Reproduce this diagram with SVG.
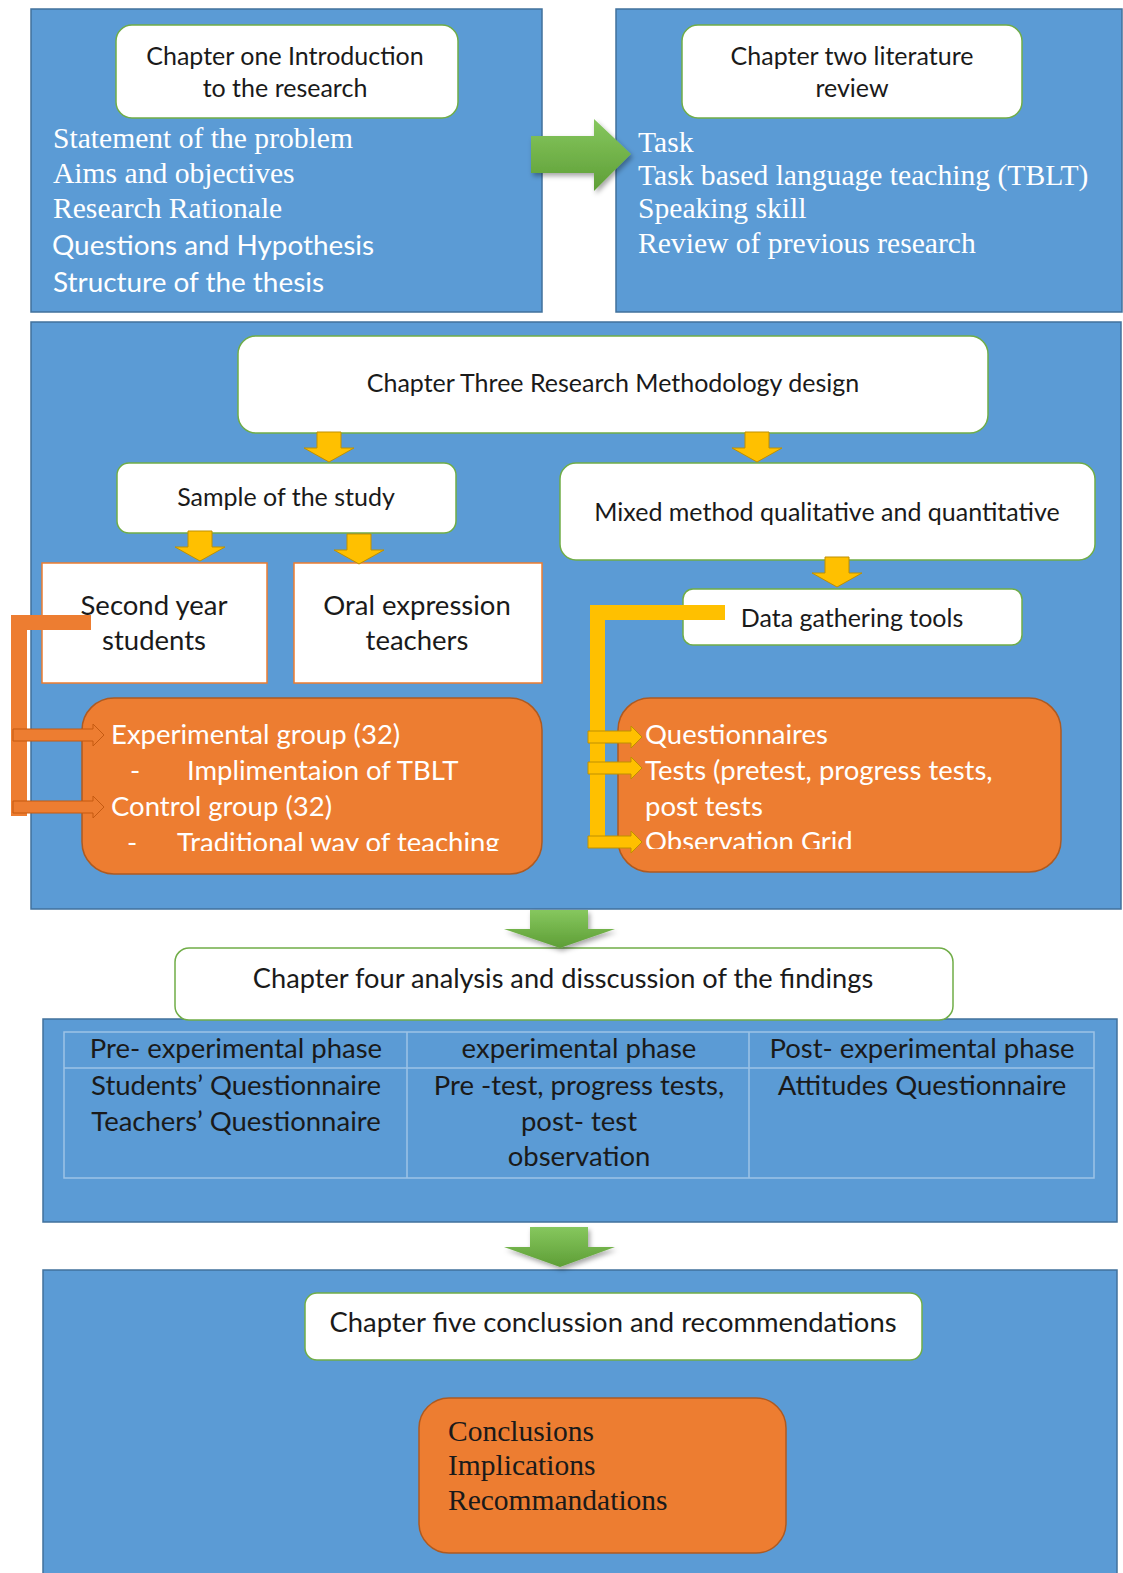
<svg xmlns="http://www.w3.org/2000/svg" width="1123" height="1573" viewBox="0 0 1123 1573">
<style>
.blue{fill:#5B9BD5;stroke:#41719C;stroke-width:1.5}
.wbox{fill:#FFFFFF;stroke:#70AD47;stroke-width:1.5}
.obox{fill:#FFFFFF;stroke:#ED7D31;stroke-width:1.5}
.orange{fill:#ED7D31;stroke:#AE5A21;stroke-width:1.5}
.cal{font-family:Lato,"Liberation Sans",sans-serif;fill:#1a1a1a}
.calw{font-family:Lato,"Liberation Sans",sans-serif;fill:#FFFFFF}
.tim{font-family:"Liberation Serif","Times New Roman",serif;font-size:29.6px;fill:#FFFFFF}
.timk{font-family:"Liberation Serif","Times New Roman",serif;font-size:29.5px;fill:#1a1a1a}
.t25{font-size:25px}
.t27{font-size:27.5px}
.t28{font-size:27.9px}
.t272{font-size:27.2px}
.mid{text-anchor:middle}
.yel{fill:#FFC000}
.yarr{fill:#FFC000;stroke:#BF9000;stroke-width:1}
.oarr{fill:#ED7D31;stroke:#C55A11;stroke-width:1}
.grn{fill:url(#gg);filter:url(#sh)}
.tbl{fill:none;stroke:#9DC3E6;stroke-width:1.5}
</style>
<defs>
<linearGradient id="gg" x1="0" y1="0" x2="0" y2="1">
<stop offset="0" stop-color="#86C75E"/>
<stop offset="1" stop-color="#5E9E36"/>
</linearGradient>
<filter id="sh" x="-20%" y="-20%" width="150%" height="150%">
<feDropShadow dx="2" dy="3" stdDeviation="2.5" flood-color="#000" flood-opacity="0.35"/>
</filter>
<path id="yDown" class="yarr" d="M-12,0 H12 V16 H25 L0,30 L-25,16 H-12 Z"/>
<clipPath id="clipL"><rect x="82" y="698" width="460" height="153"/></clipPath>
<clipPath id="clipR"><rect x="618" y="698" width="444" height="151"/></clipPath>
</defs>

<g id="chapter1">
<rect class="blue" x="31" y="9" width="511" height="303"/>
<rect class="wbox" x="116" y="25" width="342" height="93" rx="16"/>
<text class="cal t25 mid" x="285" y="65">Chapter one Introduction</text>
<text class="cal t25 mid" x="285" y="97">to the research</text>
<text class="tim" x="53" y="148">Statement of the problem</text>
<text class="tim" x="53" y="183">Aims and objectives</text>
<text class="tim" x="53" y="218">Research Rationale</text>
<text class="calw t28" x="52" y="255">Questions and Hypothesis</text>
<text class="calw t28" x="53" y="292">Structure of the thesis</text>
</g>

<g id="chapter2">
<rect class="blue" x="616" y="9" width="506" height="303"/>
<rect class="wbox" x="682" y="25" width="340" height="93" rx="16"/>
<text class="cal t25 mid" x="852" y="65">Chapter two literature</text>
<text class="cal t25 mid" x="852" y="97">review</text>
<text class="tim" x="638" y="152">Task</text>
<text class="tim" x="638" y="185">Task based language teaching (TBLT)</text>
<text class="tim" x="638" y="218">Speaking skill</text>
<text class="tim" x="638" y="253">Review of previous research</text>
</g>

<g id="chapter3">
<rect class="blue" x="31" y="322" width="1090" height="587"/>
<g id="ch3-title">
<rect class="wbox" x="238" y="336" width="750" height="97" rx="18"/>
<text class="cal t25 mid" x="613" y="392">Chapter Three Research Methodology design</text>
</g>
<g id="sample">
<rect class="wbox" x="117" y="463" width="339" height="70" rx="12"/>
<text class="cal t25 mid" x="286" y="506">Sample of the study</text>
</g>
<g id="mixed">
<rect class="wbox" x="560" y="463" width="535" height="97" rx="16"/>
<text class="cal t25 mid" x="827" y="521">Mixed method qualitative and quantitative</text>
</g>
<g id="second-year">
<rect class="obox" x="42" y="563" width="225" height="120"/>
<text class="cal t27 mid" x="154" y="615">Second year</text>
<text class="cal t27 mid" x="154" y="650">students</text>
</g>
<g id="oral-teachers">
<rect class="obox" x="294" y="563" width="248" height="120"/>
<text class="cal t27 mid" x="417" y="615">Oral expression</text>
<text class="cal t27 mid" x="417" y="650">teachers</text>
</g>
<g id="data-tools">
<rect class="wbox" x="683" y="589" width="339" height="56" rx="10"/>
<text class="cal t25 mid" x="852" y="627">Data gathering tools</text>
</g>
<g id="groups">
<rect class="orange" x="82" y="698" width="460" height="176" rx="32"/>
<g clip-path="url(#clipL)">
<text class="calw t27" x="111" y="744">Experimental group (32)</text>
<text class="calw t27" x="130" y="780">-</text>
<text class="calw t27" x="187" y="780">Implimentaion of TBLT</text>
<text class="calw t27" x="111" y="816">Control group (32)</text>
<text class="calw t27" x="127" y="852">-</text>
<text class="calw t27" x="177" y="852">Traditional  way of teaching</text>
</g>
</g>
<g id="tools-list">
<rect class="orange" x="618" y="698" width="443" height="174" rx="32"/>
<g clip-path="url(#clipR)">
<text class="calw t27" x="645" y="744">Questionnaires</text>
<text class="calw t27" x="645" y="780">Tests (pretest, progress tests,</text>
<text class="calw t27" x="645" y="816">post tests</text>
<text class="calw t27" x="645" y="851">Observation Grid</text>
</g>
</g>
</g>

<g id="chapter4">
<rect class="blue" x="43" y="1019" width="1074" height="203"/>
<rect class="wbox" x="175" y="948" width="778" height="72" rx="14"/>
<text class="cal t272 mid" x="563" y="988">Chapter four analysis and disscussion of the findings</text>
<g id="phases-table">
<rect class="tbl" x="64" y="1032" width="1030" height="146"/>
<line class="tbl" x1="64" y1="1068" x2="1094" y2="1068"/>
<line class="tbl" x1="407" y1="1032" x2="407" y2="1178"/>
<line class="tbl" x1="749" y1="1032" x2="749" y2="1178"/>
<text class="cal t27 mid" x="236" y="1058">Pre- experimental phase</text>
<text class="cal t27 mid" x="579" y="1058">experimental phase</text>
<text class="cal t27 mid" x="922" y="1058">Post- experimental phase</text>
<text class="cal t27 mid" x="236" y="1095">Students’ Questionnaire</text>
<text class="cal t27 mid" x="236" y="1131">Teachers’ Questionnaire</text>
<text class="cal t27 mid" x="579" y="1095">Pre -test, progress tests,</text>
<text class="cal t27 mid" x="579" y="1131">post- test</text>
<text class="cal t27 mid" x="579" y="1166">observation</text>
<text class="cal t27 mid" x="922" y="1095">Attitudes Questionnaire</text>
</g>
</g>

<g id="chapter5">
<rect class="blue" x="43" y="1270" width="1074" height="310"/>
<rect class="wbox" x="305" y="1293" width="617" height="67" rx="12"/>
<text class="cal mid" style="font-size:27.4px" x="613" y="1332">Chapter five conclussion and recommendations</text>
<g id="conclusions">
<rect class="orange" x="419" y="1398" width="367" height="155" rx="30"/>
<text class="timk" x="448" y="1441">Conclusions</text>
<text class="timk" x="448" y="1475">Implications</text>
<text class="timk" x="448" y="1510">Recommandations</text>
</g>
</g>

<g id="connectors">
<path class="grn" d="M531,136 H594 V119 L631,154 L594,191 V173 H531 Z"/>
<path class="grn" d="M530,910 H588 V929 H615 L560,948 L504,929 H530 Z"/>
<path class="grn" d="M530,1227 H588 V1247 H615 L560,1267 L504,1247 H530 Z"/>
<use href="#yDown" x="329" y="432"/>
<use href="#yDown" x="757" y="432"/>
<use href="#yDown" x="200" y="531"/>
<use href="#yDown" x="359" y="534"/>
<use href="#yDown" x="837" y="557"/>
<rect fill="#ED7D31" x="12" y="615" width="79" height="15"/>
<rect fill="#ED7D31" x="11" y="615" width="16" height="201"/>
<path class="oarr" d="M13,729 H93 V724 L104,735 L93,746 V741 H13 Z"/>
<path class="oarr" d="M13,801 H93 V796 L104,807 L93,818 V813 H13 Z"/>
<rect class="yel" x="590" y="605" width="135" height="15"/>
<rect class="yel" x="590" y="605" width="15" height="243"/>
<path class="yarr" d="M588,731 H631 V726 L642,737 L631,748 V743 H588 Z"/>
<path class="yarr" d="M588,762 H631 V757 L642,768 L631,779 V774 H588 Z"/>
<path class="yarr" d="M588,836 H631 V831 L642,842 L631,853 V848 H588 Z"/>
</g>
</svg>
